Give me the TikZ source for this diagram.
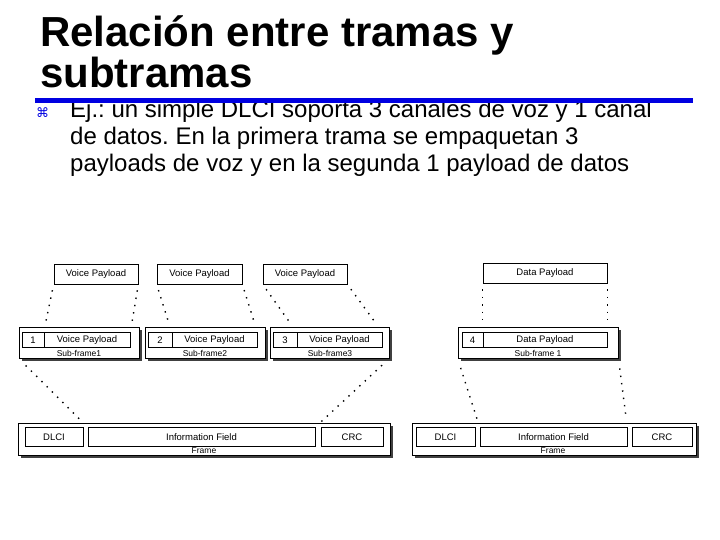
\documentclass[tikz,border=0pt]{standalone}
\usepackage{fontspec}
\setmainfont{Liberation Sans}
\newfontfamily\symfont{DejaVu Sans}
\usetikzlibrary{shadows}
\definecolor{barblue}{RGB}{0,0,225}
\frenchspacing
\tikzset{
  titletext/.style={anchor=base west, inner sep=0, font=\fontsize{42}{42}\selectfont\bfseries},
  bodytext/.style={anchor=base west, inner sep=0, font=\fontsize{24}{24}\selectfont},
  fieldbox/.style={draw=black, line width=0.7pt, fill=white, inner sep=0, font=\fontsize{9.5}{9.5}\selectfont},
  outerbox/.style={draw=black, line width=0.8pt, fill=white, inner sep=0,
     drop shadow={shadow xshift=2.5pt, shadow yshift=-2.5pt, fill=black!75, opacity=1}},
  caption/.style={inner sep=0, font=\fontsize{8.5}{8.5}\selectfont},
  dotline/.style={line width=1.4pt, dash pattern=on 1.4pt off 6pt, black}
}
\begin{document}
\begin{tikzpicture}[x=1pt,y=-1pt]
\useasboundingbox (0,0) rectangle (720,540);

% title
\node[titletext] (t1) at (40,47) {Relación entre tramas y};
\node[titletext] (t2) at (40,88) {subtramas};

% body
\node[anchor=base west, inner sep=0, text=barblue, font=\symfont\fontsize{13}{13}\selectfont] (bul) at (36,118) {⌘};
\node[bodytext] (l1) at (70,118) {Ej.: un simple DLCI soporta 3 canales de voz y 1 canal};
\node[bodytext] (l2) at (70,145) {de datos. En la primera trama se empaquetan 3};
\node[bodytext] (l3) at (70,172) {payloads de voz y en la segunda 1 payload de datos};
\fill[barblue] (35,98) rectangle (693,103);

% top payloads
\node[fieldbox, minimum width=84pt, minimum height=20pt] (vp1) at (96,274) {Voice Payload};
\node[fieldbox, minimum width=85pt, minimum height=20pt] (vp2) at (199.5,274) {Voice Payload};
\node[fieldbox, minimum width=84pt, minimum height=20pt] (vp3) at (305,274) {Voice Payload};
\node[fieldbox, minimum width=124pt, minimum height=20pt] (dp) at (545,273) {Data Payload};

% sub-frames
\node[outerbox, minimum width=120pt, minimum height=31pt] (sf1) at (79,342.5) {};
\node[outerbox, minimum width=120pt, minimum height=31pt] (sf2) at (205,342.5) {};
\node[outerbox, minimum width=119pt, minimum height=31pt] (sf3) at (329.5,342.5) {};
\node[outerbox, minimum width=160pt, minimum height=31pt] (sf4) at (538,342.5) {};

\node[fieldbox, minimum width=22pt, minimum height=15pt] (n1) at (33,340) {1};
\node[fieldbox, minimum width=86pt, minimum height=15pt] (p1) at (87,340) {Voice Payload};
\node[fieldbox, minimum width=24pt, minimum height=15pt] (n2) at (160,340) {2};
\node[fieldbox, minimum width=85pt, minimum height=15pt] (p2) at (214.5,340) {Voice Payload};
\node[fieldbox, minimum width=24pt, minimum height=15pt] (n3) at (285,340) {3};
\node[fieldbox, minimum width=85pt, minimum height=15pt] (p3) at (339.5,340) {Voice Payload};
\node[fieldbox, minimum width=21pt, minimum height=15pt] (n4) at (472.5,340) {4};
\node[fieldbox, minimum width=124pt, minimum height=15pt] (p4) at (545,340) {Data Payload};

\node[caption] (c1) at (79,353) {Sub-frame1};
\node[caption] (c2) at (205,353) {Sub-frame2};
\node[caption] (c3) at (330,353) {Sub-frame3};
\node[caption] (c4) at (538,353) {Sub-frame 1};

% frames
\node[outerbox, minimum width=372pt, minimum height=32pt] (fr1) at (204,439) {};
\node[outerbox, minimum width=284pt, minimum height=32pt] (fr2) at (554,439) {};

\node[fieldbox, minimum width=58pt, minimum height=19pt] (dl1) at (54,437) {DLCI};
\node[fieldbox, minimum width=227pt, minimum height=19pt] (if1) at (201.5,437) {Information Field};
\node[fieldbox, minimum width=62pt, minimum height=19pt] (crc1) at (352,437) {CRC};
\node[fieldbox, minimum width=59pt, minimum height=19pt] (dl2) at (445.5,437) {DLCI};
\node[fieldbox, minimum width=147pt, minimum height=19pt] (if2) at (553.5,437) {Information Field};
\node[fieldbox, minimum width=60pt, minimum height=19pt] (crc2) at (662,437) {CRC};

\node[caption] (f1) at (204,451) {Frame};
\node[caption] (f2) at (553,451) {Frame};

% dotted connectors payload -> sub-frame
\draw[dotline, shorten <=6pt, shorten >=9pt] (vp1.south west) -- (p1.north west);
\draw[dotline, shorten <=6pt, shorten >=9pt] (vp1.south east) -- (p1.north east);
\draw[dotline, shorten <=6pt, shorten >=9pt] (vp2.south west) -- (p2.north west);
\draw[dotline, shorten <=6pt, shorten >=9pt] (vp2.south east) -- (p2.north east);
\draw[dotline, shorten <=6pt, shorten >=9pt] (vp3.south west) -- (p3.north west);
\draw[dotline, shorten <=6pt, shorten >=9pt] (vp3.south east) -- (p3.north east);
\draw[dotline, shorten <=6pt, shorten >=9pt] (dp.south west) -- (p4.north west);
\draw[dotline, shorten <=6pt, shorten >=9pt] (dp.south east) -- (p4.north east);

% dotted connectors sub-frame -> frame
\draw[dotline, shorten <=10pt, shorten >=8pt] (sf1.south west) -- (if1.north west);
\draw[dotline, shorten <=10pt, shorten >=8pt] (sf3.south east) -- (if1.north east);
\draw[dotline, shorten <=10pt, shorten >=8pt] (sf4.south west) -- (if2.north west);
\draw[dotline, shorten <=10pt, shorten >=8pt] (sf4.south east) -- (if2.north east);
\end{tikzpicture}
\end{document}
